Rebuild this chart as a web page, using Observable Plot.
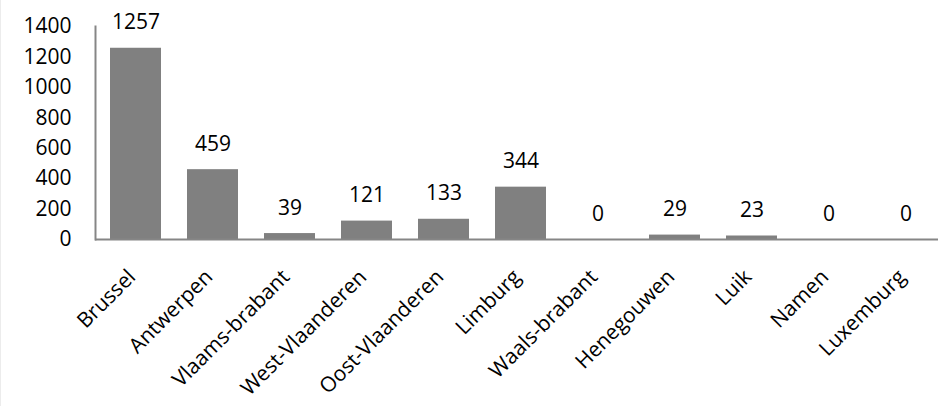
<!DOCTYPE html>
<html>
<head>
<meta charset="utf-8">
<script src="https://cdn.jsdelivr.net/npm/d3@7"></script>
<script src="https://cdn.jsdelivr.net/npm/@observablehq/plot@0.6"></script>
<style>
  html, body { margin: 0; padding: 0; background: white; overflow: hidden; }
  #chart { width: 937px; height: 406px; border-left: 1px solid #ececec; }
  #chart svg { display: block; overflow: hidden; }
</style>
</head>
<body>
<div id="chart"></div>
<script>
const provinces = ["Brussel", "Antwerpen", "Vlaams-brabant", "West-Vlaanderen", "Oost-Vlaanderen", "Limburg", "Waals-brabant", "Henegouwen", "Luik", "Namen", "Luxemburg"];
const counts = [1257, 459, 39, 121, 133, 344, 0, 29, 23, 0, 0];
const yTicks = [0, 200, 400, 600, 800, 1000, 1200, 1400];

const data = provinces.map((p, i) => ({province: p, count: counts[i]}));

const chart = Plot.plot({
  width: 937,
  height: 406,
  marginLeft: 94,
  marginTop: 26,
  marginBottom: 167,
  marginRight: -8.5,
  style: {fontFamily: "'Open Sans', sans-serif", fontSize: "21px", color: "#000", background: "white", overflow: "hidden"},
  x: {domain: provinces, paddingInner: 0.34, paddingOuter: 0.17},
  y: {domain: [0, 1400]},
  marks: [
    Plot.barY(data, {x: "province", y: "count", fill: "#808080"}),
    Plot.ruleY([0], {stroke: "#868686", strokeWidth: 2}),
    Plot.frame({anchor: "left", stroke: "#868686", strokeWidth: 2}),
    Plot.axisY({ticks: yTicks, tickFormat: d => String(d), tickSize: 0, tickPadding: 24, label: null, fontSize: 21}),
    Plot.axisX({tickRotate: -45, tickSize: 0, tickPadding: 34, dx: -4, label: null, fontSize: 21}),
    Plot.text(data, {x: "province", y: "count", text: d => String(d.count), lineAnchor: "bottom", dy: -19, fontSize: 21, fill: "#000"})
  ]
});
document.getElementById("chart").appendChild(chart);
</script>
</body>
</html>
